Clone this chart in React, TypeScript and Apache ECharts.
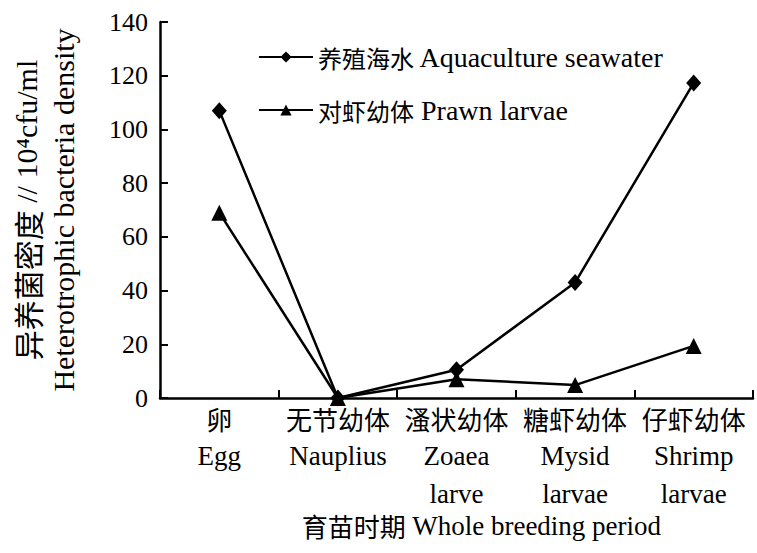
import React, { useEffect, useRef } from "react";
import * as echarts from "echarts";

const stagesCn = ["卵", "无节幼体", "溞状幼体", "糖虾幼体", "仔虾幼体"];
const stagesEn = ["Egg", "Nauplius", "Zoaea\nlarve", "Mysid\nlarvae", "Shrimp\nlarvae"];
const seawater = [107, 0, 10.5, 43, 117.3];
const prawn = [69, 0, 7, 4.8, 19.4];
const yTicks = { min: 0, max: 140, interval: 20 };
const seriesNamesCn = ["养殖海水", "对虾幼体"];
const seriesNamesEn = ["Aquaculture seawater", "Prawn larvae"];

const LATIN = "Liberation Serif";
const CJK = "Noto Sans CJK SC";

export default function App() {
  const ref = useRef<HTMLDivElement>(null);
  useEffect(() => {
    if (!ref.current) return;
    const chart = echarts.init(ref.current, undefined, { renderer: "svg" });
    const rich = {
      c: { fontFamily: CJK, fontSize: 26, color: "#000", lineHeight: 38 },
      e: { fontFamily: LATIN, fontSize: 27, color: "#000", lineHeight: 38 },
    };
    const names = seriesNamesEn.map((en, i) => `${seriesNamesCn[i]} ${en}`);
    chart.setOption({
      animation: false,
      backgroundColor: "#fff",
      grid: { left: 160, right: 4, top: 22, bottom: 155, containLabel: false, outerBoundsMode: "none" },
      legend: {
        orient: "vertical",
        left: 253,
        top: 37,
        itemWidth: 54,
        itemHeight: 14,
        itemGap: 23,
        data: names,
        formatter: (name: string) => {
          const i = names.indexOf(name);
          return `{c|${seriesNamesCn[i]}}{e| ${seriesNamesEn[i]}}`;
        },
        textStyle: {
          color: "#000",
          lineHeight: 30,
          rich: {
            c: { fontFamily: CJK, fontSize: 24, color: "#000", lineHeight: 30 },
            e: { fontFamily: LATIN, fontSize: 28, color: "#000", lineHeight: 30 },
          },
        },
      },
      xAxis: {
        type: "category",
        data: stagesCn,
        boundaryGap: true,
        axisLine: { show: true, lineStyle: { color: "#000", width: 2.5 } },
        axisTick: { show: true, inside: true, length: 8, lineStyle: { color: "#000", width: 2 } },
        axisLabel: {
          interval: 0,
          margin: 1,
          color: "#000",
          formatter: (_v: string, i: number) => `{c|${stagesCn[i]}}\n{e|${stagesEn[i]}}`,
          rich,
        },
        splitLine: { show: false },
        name: "{c|育苗时期}{e| Whole breeding period}",
        nameLocation: "middle",
        nameGap: 98,
        nameTextStyle: {
          padding: [0, 0, 0, 50],
          rich: {
            c: { fontFamily: CJK, fontSize: 26, color: "#000", lineHeight: 37 },
            e: { fontFamily: LATIN, fontSize: 27, color: "#000", lineHeight: 37 },
          },
        },
      },
      yAxis: {
        type: "value",
        min: yTicks.min,
        max: yTicks.max,
        interval: yTicks.interval,
        axisLine: { show: true, lineStyle: { color: "#000", width: 2.5 } },
        axisTick: { show: true, inside: true, length: 8, lineStyle: { color: "#000", width: 2 } },
        axisLabel: { fontFamily: LATIN, fontSize: 26, color: "#000", margin: 12 },
        splitLine: { show: false },
        name: "{c|异养菌密度}{e| // 10⁴cfu/ml}\n{e|Heterotrophic bacteria density}",
        nameLocation: "middle",
        nameRotate: 90,
        nameGap: 78,
        nameTextStyle: {
          rich: {
            c: { fontFamily: CJK, fontSize: 30, color: "#000", lineHeight: 37 },
            e: { fontFamily: LATIN, fontSize: 30, color: "#000", lineHeight: 37 },
          },
        },
      },
      series: [
        {
          name: names[0],
          type: "line",
          data: seawater,
          symbol: "diamond",
          symbolSize: [15, 17],
          lineStyle: { color: "#000", width: 2.5 },
          itemStyle: { color: "#000" },
        },
        {
          name: names[1],
          type: "line",
          data: prawn,
          symbol: "triangle",
          symbolSize: [16, 16],
          lineStyle: { color: "#000", width: 2.5 },
          itemStyle: { color: "#000" },
        },
      ],
    });
    return () => chart.dispose();
  }, []);
  return <div ref={ref} style={{ width: 757, height: 553, position: "absolute", left: 0, top: 0 }} />;
}
